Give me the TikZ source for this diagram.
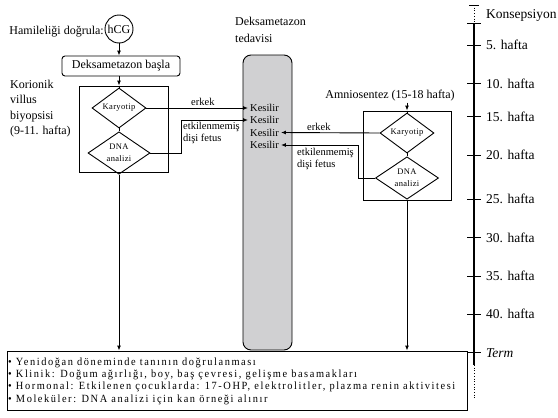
\documentclass[tikz,border=0pt]{standalone}
\usepackage{fontspec}
\usepackage{graphicx}
\setmainfont{Liberation Serif}
\newfontfamily\spacedfont[LetterSpace=15]{Liberation Serif}
\newfontfamily\diafont[LetterSpace=4]{Liberation Serif}
\usetikzlibrary{shapes.geometric,arrows.meta}
\definecolor{boxgray}{RGB}{208,208,210}
\begin{document}
\begin{tikzpicture}[x=1pt,y=-1pt,
  ln/.style={line width=0.9pt},
  arr/.style={ln,-{Latex[length=5pt,width=4pt]}},
  rbox/.style={draw,ln,rectangle,inner sep=0pt},
  dia/.style={draw,ln,diamond,inner sep=0pt,font=\fontsize{8.5}{12}\diafont,align=center},
  lab/.style={inner sep=1pt,font=\fontsize{12}{14}\selectfont},
  small/.style={inner sep=1pt,font=\fontsize{10.5}{12.5}\selectfont,align=left},
  kes/.style={inner sep=2pt,anchor=west,font=\fontsize{10.5}{12}\selectfont},
  tl/.style={anchor=west,inner sep=0pt,font=\fontsize{13.5}{15}\selectfont},
  tick/.style={line width=0.8pt}
]
\useasboundingbox (0,0) rectangle (558,418);

% top left
\node[lab,anchor=east] (ham) at (105,32) {Hamileliği doğrula:};
\node[draw,ln,circle,minimum size=28pt,inner sep=0pt,font=\fontsize{12}{14}\selectfont] (hcg) at (119,29) {hCG};
\node[rbox,rounded corners=3pt,minimum width=118pt,minimum height=20pt,font=\fontsize{12}{14}\selectfont] (dbox) at (121,66) {Deksametazon başla};

% left box
\node[rbox,minimum width=89pt,minimum height=86pt] (lbox) at (123.5,129) {};
\node[dia,minimum width=54pt,minimum height=28pt] (lkar) at (119,108) {Karyotip};
\node[dia,minimum width=62pt,minimum height=36pt] (ldna) at (119,153) {DNA\\analizi};
\node[lab,anchor=north west,align=left,font=\fontsize{12}{15.3}\selectfont] (kvb) at (9,79) {Korionik\\villus\\biyopsisi\\(9-11. hafta)};

% gray bar
\node[draw,ln,fill=boxgray,rounded corners=8pt,minimum width=49pt,minimum height=295pt,inner sep=0pt] (gray) at (267.5,202.5) {};
\node[lab,anchor=north west,align=left,font=\fontsize{12}{17}\selectfont] (dt) at (234,16) {Deksametazon\\tedavisi};
\node[kes] (k1) at (248,108) {Kesilir};
\node[kes] (k2) at (248,120) {Kesilir};
\node[kes] (k3) at (248,132.5) {Kesilir};
\node[kes] (k4) at (248,145) {Kesilir};

% right box
\node[lab] (amn) at (390,96) {Amniosentez (15-18 hafta)};
\node[rbox,minimum width=88pt,minimum height=89pt] (rbx) at (407,155.5) {};
\node[dia,minimum width=54pt,minimum height=28pt] (rkar) at (407,133) {Karyotip};
\node[dia,minimum width=63pt,minimum height=36pt] (rdna) at (407,178) {DNA\\analizi};

% bottom box
\node[rbox,minimum width=460pt,minimum height=59pt] (bbox) at (237,380.5) {};
\node[anchor=north west,inner sep=0pt] (btxt) at (8,356.5) {\resizebox{447pt}{\height}{\fontsize{11}{12.3}\spacedfont
\begin{tabular}{@{}l@{}}
• Yenidoğan döneminde tanının doğrulanması\\
• Klinik: Doğum ağırlığı, boy, baş çevresi, gelişme basamakları\\
• Hormonal: Etkilenen çocuklarda: 17-OHP, elektrolitler, plazma renin aktivitesi\\
• Moleküler: DNA analizi için kan örneği alınır
\end{tabular}}};

% connectors left
\draw[arr] (hcg.south) -- (hcg.south |- dbox.north);
\draw[arr] (lkar.north |- dbox.south) -- (lkar.north |- lbox.north);
\draw[ln] (lkar.north |- lbox.north) -- (lkar.north);
\draw[ln] (lkar.south) -- (ldna.north);
\draw[arr] (ldna.south) -- (ldna.south |- bbox.north);
\draw[arr] (lkar.east) -- (k1.west);
\node[small,anchor=south west] (le) at (190,107) {erkek};
\coordinate (lb) at (181,153);
\draw[arr] (ldna.east) -- (lb) |- (k2.west);
\node[small,anchor=north west] (lf) at (182,121) {etkilenmemiş\\dişi fetus};

% connectors right
\draw[arr] (amn.south -| rkar.north) -- (rkar.north |- rbx.north);
\draw[ln] (rkar.north |- rbx.north) -- (rkar.north);
\draw[ln] (rkar.south) -- (rdna.north);
\draw[arr] (rdna.south) -- (rdna.south |- bbox.north);
\draw[arr] (rkar.west) -- (k3.east);
\node[small,anchor=south west] (re) at (306,132) {erkek};
\coordinate (rb) at (358,178);
\draw[arr] (rdna.west) -- (rb) |- (k4.east);
\node[small,anchor=north west] (rf) at (296,147) {etkilenmemiş\\dişi fetus};

% timeline
\coordinate (t0) at (474,5);
\coordinate (t1) at (474,23);
\coordinate (t2) at (474,365);
\coordinate (t3) at (474,400);
\draw[tick] (469,5) -- (479,5);
\draw[line width=0.7pt,dotted] (t0) -- (t1);
\draw[line width=1.1pt] (t1) -- (t2);
\draw[line width=0.7pt,dotted] (t2) -- (t3);
\foreach \y in {23,45,83,116,155,199,237,276,314,352} \draw[tick] (467,\y) -- (481,\y);
\node[tl] (l0) at (486,15) {Konsepsiyon};
\node[tl] (l1) at (486,45) {5. hafta};
\node[tl] (l2) at (486,84) {10. hafta};
\node[tl] (l3) at (486,117) {15. hafta};
\node[tl] (l4) at (486,155) {20. hafta};
\node[tl] (l5) at (486,199) {25. hafta};
\node[tl] (l6) at (486,238) {30. hafta};
\node[tl] (l7) at (486,276) {35. hafta};
\node[tl] (l8) at (486,314) {40. hafta};
\node[tl] (l9) at (486,353) {\itshape Term};
\end{tikzpicture}
\end{document}
